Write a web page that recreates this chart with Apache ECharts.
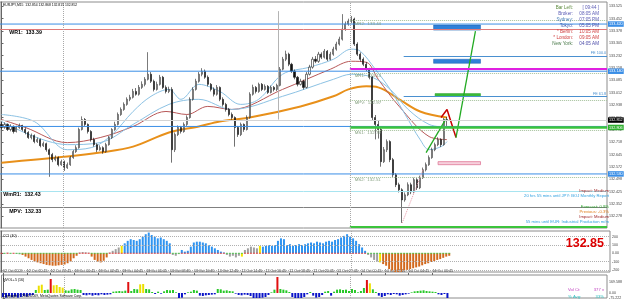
<!DOCTYPE html>
<html><head><meta charset="utf-8">
<script src="https://cdn.jsdelivr.net/npm/echarts@6/dist/echarts.min.js"></script>
<style>html,body{margin:0;padding:0;background:#fff}#c{width:625px;height:308px}</style>
</head><body><div id="c"></div>
<script>
// ---------- DATA ----------
const symbolTitle = 'EURJPY,M15';
const opens = [132.824,132.806,132.824,132.794,132.812,132.782,132.806,132.818,132.794,132.776,
132.746,132.758,132.722,132.734,132.698,132.710,132.674,132.645,132.615,132.627,
132.585,132.603,132.567,132.585,132.627,132.663,132.686,132.794,132.853,132.824,
132.782,132.734,132.704,132.674,132.686,132.663,132.704,132.746,132.794,132.824,
132.883,132.913,132.943,132.973,132.985,133.020,133.003,133.044,133.062,133.092,
133.122,133.080,133.032,133.062,133.104,133.044,133.020,133.032,132.674,132.764,
132.806,132.782,132.824,132.865,132.973,133.032,133.080,133.122,133.140,133.104,
133.062,133.032,133.003,133.044,132.973,132.943,132.913,132.883,132.865,132.806,
132.764,132.824,132.794,132.865,133.003,133.044,133.020,133.062,133.032,133.050,
133.014,133.044,133.032,133.056,133.152,133.211,133.241,133.181,133.140,133.104,
133.062,133.080,133.044,133.122,133.164,133.211,133.199,133.241,133.223,133.259,
133.211,133.241,133.271,133.301,133.330,133.390,133.420,133.438,133.450,133.301,
133.241,133.211,133.181,133.152,133.104,132.865,132.824,132.794,132.603,132.674,
132.722,132.615,132.525,132.466,132.436,132.376,132.406,132.466,132.424,132.496,
132.448,132.508,132.555,132.585,132.627,132.674,132.704,132.734,132.704,132.854];
const closes = [132.806,132.824,132.794,132.812,132.782,132.806,132.818,132.794,132.776,132.746,
132.758,132.722,132.734,132.698,132.710,132.674,132.645,132.615,132.627,132.585,
132.603,132.567,132.585,132.627,132.663,132.686,132.794,132.853,132.824,132.782,
132.734,132.704,132.674,132.686,132.663,132.704,132.746,132.794,132.824,132.883,
132.913,132.943,132.973,132.985,133.020,133.003,133.044,133.062,133.092,133.122,
133.080,133.032,133.062,133.104,133.044,133.020,133.032,132.674,132.764,132.806,
132.782,132.824,132.865,132.973,133.032,133.080,133.122,133.140,133.104,133.062,
133.032,133.003,133.044,132.973,132.943,132.913,132.883,132.865,132.806,132.764,
132.824,132.794,132.865,133.003,133.044,133.020,133.062,133.032,133.050,133.014,
133.044,133.032,133.056,133.152,133.211,133.241,133.181,133.140,133.104,133.062,
133.080,133.044,133.122,133.164,133.211,133.199,133.241,133.223,133.259,133.211,
133.241,133.271,133.301,133.330,133.390,133.420,133.438,133.450,133.301,133.241,
133.211,133.181,133.152,133.104,132.865,132.824,132.794,132.603,132.674,132.722,
132.615,132.525,132.466,132.436,132.376,132.406,132.466,132.424,132.496,132.448,
132.508,132.555,132.585,132.627,132.674,132.704,132.734,132.704,132.854,132.852];
const highs = [132.838,132.836,132.830,132.825,132.818,132.816,132.830,132.822,132.806,132.784,
132.770,132.765,132.746,132.740,132.722,132.716,132.682,132.655,132.640,132.634,
132.615,132.610,132.598,132.636,132.672,132.700,132.805,132.872,132.862,132.830,
132.790,132.745,132.712,132.700,132.694,132.715,132.756,132.802,132.840,132.895,
132.925,132.955,132.985,133.000,133.035,133.040,133.058,133.080,133.105,133.253,
133.135,133.090,133.078,133.118,133.112,133.056,133.048,133.045,132.776,132.818,
132.815,132.836,132.878,132.985,133.045,133.095,133.135,133.158,133.150,133.115,
133.070,133.044,133.058,133.050,132.985,132.952,132.922,132.895,132.872,132.815,
132.835,132.830,132.878,133.015,133.060,133.052,133.072,133.070,133.062,133.058,
133.055,133.052,133.066,133.165,133.225,133.262,133.250,133.190,133.150,133.112,
133.095,133.090,133.135,133.178,133.225,133.230,133.255,133.252,133.272,133.266,
133.255,133.285,133.315,133.345,133.479,133.435,133.452,133.468,133.458,133.312,
133.252,133.222,133.195,133.160,133.112,132.880,132.845,132.810,132.690,132.735,
132.730,132.625,132.535,132.478,132.445,132.420,132.480,132.478,132.508,132.505,
132.520,132.568,132.598,132.640,132.686,132.716,132.748,132.742,132.862,132.868];
const lows = [132.795,132.798,132.785,132.783,132.770,132.776,132.798,132.784,132.765,132.738,
132.735,132.712,132.714,132.688,132.690,132.662,132.513,132.600,132.605,132.575,
132.578,132.548,132.560,132.578,132.620,132.655,132.680,132.788,132.815,132.770,
132.722,132.692,132.660,132.668,132.650,132.656,132.698,132.738,132.786,132.818,
132.875,132.905,132.935,132.962,132.978,132.995,132.995,133.035,133.050,133.085,
133.070,133.020,133.025,133.055,133.035,133.008,133.010,132.597,132.660,132.755,
132.770,132.775,132.815,132.858,132.965,133.025,133.072,133.110,133.095,133.050,
133.020,132.990,132.995,132.962,132.930,132.900,132.872,132.852,132.692,132.750,
132.755,132.780,132.788,132.858,132.995,133.008,133.012,133.022,133.025,133.005,
133.008,133.020,133.022,133.050,133.145,133.200,133.170,133.130,133.092,133.050,
133.055,133.032,133.038,133.115,133.155,133.188,133.190,133.212,133.215,133.200,
133.205,133.232,133.262,133.292,133.322,133.380,133.410,133.425,133.290,133.230,
133.198,133.170,133.140,133.092,132.850,132.735,132.740,132.573,132.595,132.660,
132.600,132.512,132.452,132.420,132.239,132.365,132.398,132.410,132.415,132.435,
132.440,132.500,132.545,132.578,132.620,132.665,132.695,132.690,132.698,132.815];

// moving averages read at sample bars: [bar, price]
const maSlow = [[0,132.597],[22,132.633],[33,132.657],[44,132.692],[56,132.776],[66,132.812],[73,132.842],[83,132.865],[100,132.931],[111,132.991],[116,133.032],[122,133.050],[126,133.044],[133,132.973],[140,132.901],[149,132.865]];
const maMid = [[0,132.853],[8,132.806],[22,132.716],[33,132.746],[44,132.812],[55,132.901],[62,132.883],[69,132.931],[77,132.913],[94,133.032],[110,133.152],[117,133.199],[122,133.193],[126,133.092],[133,132.931],[143,132.752],[149,132.734]];
const maFastA = [[0,132.883],[11,132.841],[22,132.674],[30,132.686],[37,132.764],[44,132.901],[50,132.991],[56,133.032],[60,132.973],[66,133.062],[73,133.020],[80,132.943],[86,132.973],[94,133.122],[103,133.164],[111,133.211],[117,133.271],[120,133.259],[125,133.152],[130,133.032],[135,132.883],[140,132.734],[143,132.674],[147,132.692],[149,132.722]];
const maFastB = [[0,132.842],[22,132.704],[33,132.716],[44,132.824],[56,132.943],[66,132.973],[77,132.913],[94,132.991],[111,133.092],[117,133.122],[124,133.104],[130,133.032],[136,132.913],[143,132.824],[149,132.806]];

const cci = [5,-5,8,-6,4,-8,-12,-20,-40,-60,
-80,-100,-110,-120,-130,-140,-145,-150,-150,-145,
-140,-135,-120,-100,-60,-30,10,15,12,8,
-40,-80,-100,-110,-90,-50,10,30,50,70,
90,120,150,170,160,150,170,200,230,250,
220,200,180,190,170,150,120,-20,-30,-10,
40,20,30,80,130,140,140,130,120,100,
80,60,40,20,10,-20,-40,-30,-50,-30,
-40,40,60,80,70,60,90,80,90,100,
90,100,150,180,170,100,110,90,100,110,
100,110,120,130,120,140,130,120,140,150,
140,160,170,190,210,230,200,180,150,110,
70,30,-20,-50,-80,-100,-110,-130,-150,-190,
-215,-225,-225,-222,-210,-200,-190,-180,-170,-160,
-145,-130,-120,-105,-95,-80,-70,-55,-40,-30];
const cciColorRuns = [['g',7],['o',19],['g',4],['o',6],['g',4],['y',1],['b',16],['g',3],['b',15],['g',5],['y',1],['g',5],['y',1],['b',35],['g',4],['y',1],['o',23]];
const vol = [-60,-70,-50,-65,-55,-70,-60,-45,-55,-40,
-30,45,110,125,45,50,210,115,120,90,
80,40,35,55,60,50,45,-30,-35,-25,
-40,-30,-35,-20,-30,-25,-20,20,25,30,
25,35,165,30,60,55,130,135,60,55,
15,-15,20,-10,25,45,40,45,10,-75,
-70,-20,10,20,45,35,-40,-45,-35,-30,
-25,-20,60,55,35,40,30,25,-10,-30,
-35,-25,-30,-45,-80,-100,-90,-70,-60,-30,
10,50,240,60,50,40,15,-60,-90,-100,
-80,-60,-20,15,-40,-70,-60,-30,20,30,
-40,20,50,55,45,50,30,60,45,10,
30,75,195,145,55,15,-40,-60,-45,-20,
-30,-15,-20,-40,-30,-20,-10,10,25,30,
35,40,30,25,20,15,-20,-30,-15,-105];

const tickLabels = ['12 Oct 2009','12 Oct 20:45','12 Oct 22:45','13 Oct 00:45','13 Oct 02:45','13 Oct 04:45','13 Oct 06:45','13 Oct 08:45','13 Oct 10:45','13 Oct 12:45','13 Oct 14:45','13 Oct 16:45','13 Oct 18:45','13 Oct 20:45','13 Oct 22:45','14 Oct 00:45','14 Oct 02:45','14 Oct 04:45','14 Oct 06:45'];
const barsPerLabel = 8;
const priceTicks = [133.525,133.452,133.378,133.305,133.232,133.158,133.085,133.012,132.938,132.865,132.792,132.718,132.645,132.572,132.498,132.425,132.352,132.278];
const cciTicks = [200,100,0,-100,-200];
const volTicks = [169.588,0,-75.222];

const weeklyBlue = [133.420, 133.140, 132.812, 132.530];
const pivotNames = ['WR1','WmR1','MPV'];
const pivotValues = [133.39, 132.43, 132.33];
const dailyNames = ['MR2','MR1','MPV','MS1','MS2'];
const dailyValues = [133.44, 133.13, 132.97, 132.79, 132.51];
const daySeparators = [20.5, 116.5];
const dayStart = 116.5;
const magentaLevel = 133.152;
const greenLevels = [132.806, 132.215];
const fibNames = ['FE 100.0','FE 61.8'];
const fibValues = [133.229, 132.990];
const fibStart = 134.5;
const bidPrice = 132.852;
const spikeLine = [[92.5,133.497],[92.5,132.853]];
const zones = [[144.5,160.2,133.414,133.384],[144.5,160.2,133.211,133.187],[145,160.2,133.007,132.990],[146,160.2,132.603,132.585]];
const zigRed = [[147,132.865],[149,132.913],[152,132.746]];
const zigGreen = [[152,132.746],[158.5,133.378]];
const zigGreenLow = [[142,132.657],[148.5,132.853]];
const zigPink = [[134,132.239],[141,132.555]];

const clockLabels = ['Bar Left:','Broker:','Sydney:','Tokyo:','* Berlin:','* London:','New York:'];
const clockValues = ['[ 09:44 ]','08:05 AM','07:05 PM','05:05 PM','10:05 AM','09:05 AM','04:05 AM'];
const newsLines = ['Impact: Medium','20 hrs 55 mins until JPY: BOJ Monthly Report','Forecast: 0.9%','Previous: -0.3%','Impact: Medium','55 mins until EUR: Industrial Production m/m'];
const lastPriceBig = '132.85';
const volCount = '377 v';
const volAvg = '33%';

// ---------- STYLE / BUILD ----------
const FF = 'Liberation Sans';
const N = 203;
const XMAX = N - 0.5;
const cats = Array.from({length: N}, (_, i) => String(i));
const candleData = opens.map((o, i) => [o, closes[i], lows[i], highs[i]]);
const cciColors = [];
cciColorRuns.forEach(([c, n]) => { for (let k = 0; k < n; k++) cciColors.push(c); });
const cciPal = {b:'#3094f0', o:'#d2691e', g:'#a0a0a0', y:'#f2e400'};
const volColor = v => v < 0 ? '#0a14c8' : (v >= 160 ? '#e01010' : (v >= 80 ? '#ece000' : '#28c828'));
const BLUE = '#3a8ee6';

function tag(text, bg) {
  return {show:true, position:'end', distance:1, formatter:text, backgroundColor:bg, color:'#fff',
    fontSize:3.8, fontFamily:FF, padding:[1,1,0.5,1]};
}
const blueTags = [true, true, false, true];
// each weekly level drawn as its own 2-point line series
const blueSeries = weeklyBlue.map((p, k) => ({
  type:'line', xAxisIndex:1, yAxisIndex:0, silent:true, z:4, symbol:'none',
  data:[[-0.5, p], [XMAX, p]], lineStyle:{color:BLUE, width:1}, itemStyle:{color:BLUE},
  endLabel: blueTags[k] ? {show:true, formatter:p.toFixed(3), backgroundColor:BLUE, color:'#fff', fontSize:3.8,
    fontFamily:FF, padding:[1,1,0.5,1], distance:1} : {show:false}
}));

const mainLines = [];
const pivotColors = ['#e07878', '#a8e4f0', '#808080'];
const pivotPads = [8, 2, 8];
pivotValues.forEach((p, k) => mainLines.push({yAxis:p, lineStyle:{color:pivotColors[k], width:1, type:'solid'},
  label:{show:true, position:'insideStartBottom', distance:1.2, formatter:pivotNames[k] + ':  ' + p.toFixed(2),
    color:'#000', fontWeight:'bold', fontSize:5.3, fontFamily:FF, padding:[0,0,0,pivotPads[k]]}}));
mainLines.push({yAxis:bidPrice, lineStyle:{color:'#d4d4d4', width:1, type:'solid'}, label: tag(bidPrice.toFixed(3), '#000')});
mainLines.push([{coord:[dayStart, magentaLevel], lineStyle:{color:'#e020e0', width:2, type:'solid'}, label:{show:false}}, {coord:[XMAX, magentaLevel]}]);
greenLevels.forEach((p, k) => mainLines.push([{coord:[dayStart, p], lineStyle:{color:'#3cc43c', width:k === 0 ? 2.5 : 2, type:'solid'},
  label: k === 0 ? tag(p.toFixed(3), '#30b030') : {show:false}}, {coord:[XMAX, p]}]));
dailyValues.forEach((p, k) => mainLines.push([{coord:[dayStart, p], lineStyle:{color:'#a4c09a', width:1, type:'dotted'},
  label:{show:true, position:'insideStartBottom', distance:0.8, formatter:dailyNames[k] + ':  ' + p.toFixed(2),
    color:'#86a080', fontSize:4.4, fontFamily:FF, padding:[0,0,0,4]}}, {coord:[XMAX, p]}]));
fibValues.forEach((p, k) => mainLines.push([{coord:[fibStart, p], lineStyle:{color:'#4a90d0', width:1, type:'solid'},
  label:{show:true, position:'insideEndTop', distance:0.8, formatter:fibNames[k], color:'#4a90d0', fontSize:3.8, fontFamily:FF}}, {coord:[XMAX, p]}]));
mainLines.push([{coord:spikeLine[0], lineStyle:{color:'#b4b4b4', width:1, type:'solid'}, label:{show:false}}, {coord:spikeLine[1]}]);
const sepLines = daySeparators.map(x => ({xAxis:x, lineStyle:{color:'#a8a8a8', width:1, type:'dotted'}, label:{show:false}}));

const zoneStyles = [
  {color:'#2f80d8', borderColor:'#1a60b0', borderWidth:0.5},
  {color:'#2f80d8', borderColor:'#1a60b0', borderWidth:0.5},
  {color:'#3cbc3c', borderColor:'#2a9a2a', borderWidth:0.5},
  {color:'#f6d0dc', borderColor:'#e07898', borderWidth:0.8}
];
const zoneData = zones.map((z, k) => [{coord:[z[0], z[2]], itemStyle:zoneStyles[k]}, {coord:[z[1], z[3]]}]);

function T(x, y, text, color, size, align, bold) {
  return {type:'text', x, y, silent:true, z:100, style:{text, fill:color, fontSize:size, fontFamily:FF,
    fontWeight: bold ? 'bold' : 'normal', align: align || 'left', verticalAlign:'middle'}};
}
const clockLabelColors = ['#5c8a3c','#5a5ab4','#4a80b8','#3a5ab0','#d03c3c','#d03c3c','#4a7a4a'];
const clockValueColors = ['#5a5ab4','#5a5ab4','#5a5ab4','#4a4aa8','#d03c3c','#d03c3c','#4a4aa8'];
const newsColors = ['#a02828','#30a0e0','#30a830','#e08020','#a02828','#30a0e0'];
const newsY = [191, 196, 206.5, 211.5, 216.5, 221.5];
const graphics = [];
graphics.push(T(3, 4.6, symbolTitle + '  ' + [opens[149], highs[149], lows[149], closes[149]].map(v => v.toFixed(3)).join(' '), '#000', 3.4));
clockLabels.forEach((s, k) => {
  graphics.push(T(573, 7.3 + k * 6, s, clockLabelColors[k], 4.6, 'right'));
  graphics.push(T(599, 7.3 + k * 6, clockValues[k], clockValueColors[k], 4.6, 'right'));
});
newsLines.forEach((s, k) => graphics.push(T(609, newsY[k], s, newsColors[k], 4.2, 'right')));
graphics.push(T(604, 243.5, lastPriceBig, '#dd0000', 12.5, 'right', true));
graphics.push(T(3, 235.5, 'CCI (40)', '#000', 3.6));
graphics.push(T(3, 279.5, 'NVOL+5 (16)', '#000', 3.6));
graphics.push(T(3, 296.5, 'Copyright © 2001-2009, MetaQuotes Software Corp.', '#000', 3.4));
graphics.push(T(568, 290, 'Vol Ct:', '#c040c0', 4.2));
graphics.push(T(604, 290, volCount, '#c040c0', 4.2, 'right'));
graphics.push(T(568, 296.5, '% Avg:', '#30c0c0', 4.2));
graphics.push(T(604, 296.5, volAvg, '#30c0c0', 4.2, 'right'));

const gridBase = {left:0, right:15, show:true, borderColor:'#8c8c8c', borderWidth:1, backgroundColor:'#fff'};
const yBase = (gi, min, max, ticks, fmt) => ({
  type:'value', gridIndex:gi, position:'right', min, max, scale:false,
  axisLine:{show:true, lineStyle:{color:'#666', width:1}},
  axisTick:{show:true, length:2, lineStyle:{color:'#666'}, customValues:ticks},
  axisLabel:{show:true, fontSize:3.6, color:'#444', margin:2, fontFamily:FF, customValues:ticks, formatter:fmt},
  splitLine:{show:false}
});
const hiddenCat = gi => ({type:'category', gridIndex:gi, data:cats, boundaryGap:true, show:false});
const hiddenVal = gi => ({type:'value', gridIndex:gi, min:-0.5, max:XMAX, show:false});
const labelTicks = tickLabels.map((_, k) => k * barsPerLabel);

const option = {
  animation:false,
  backgroundColor:'#fff',
  textStyle:{fontFamily:FF},
  grid:[
    Object.assign({}, gridBase, {top:2, height:226}),
    Object.assign({}, gridBase, {top:231, height:41}),
    Object.assign({}, gridBase, {top:275, height:23})
  ],
  xAxis:[
    hiddenCat(0), hiddenVal(0), hiddenCat(1), hiddenVal(1), hiddenCat(2),
    {type:'value', gridIndex:2, min:-0.5, max:XMAX, show:true,
      axisLine:{show:false}, splitLine:{show:false},
      axisTick:{show:true, length:2, inside:false, customValues:labelTicks, lineStyle:{color:'#666'}},
      axisLabel:{show:true, customValues:labelTicks, fontSize:3.6, color:'#333', margin:2, align:'left', fontFamily:FF,
        formatter: v => tickLabels[Math.round(v / barsPerLabel)] || ''}}
  ],
  yAxis:[
    yBase(0, 132.209, 133.551, priceTicks, v => v.toFixed(3)),
    yBase(1, -225.664, 268.7, cciTicks, v => v === 0 ? '0.00' : String(v)),
    yBase(2, -75.222, 270, volTicks, v => v === 0 ? '0.00' : v.toFixed(3))
  ],
  graphic: graphics,
  series:[
    {type:'line', xAxisIndex:1, yAxisIndex:0, data:[], silent:true, z:1,
      markLine:{silent:true, symbol:['none','none'], animation:false, data: mainLines.concat(sepLines)},
      markArea:{silent:true, data: zoneData}},
    {type:'line', xAxisIndex:1, yAxisIndex:0, data:maSlow, smooth:0.35, symbol:'none', silent:true, z:2, lineStyle:{color:'#e8901a', width:2}},
    {type:'line', xAxisIndex:1, yAxisIndex:0, data:maMid, smooth:0.35, symbol:'none', silent:true, z:2, lineStyle:{color:'#b85858', width:1}},
    {type:'line', xAxisIndex:1, yAxisIndex:0, data:maFastA, smooth:0.35, symbol:'none', silent:true, z:2, lineStyle:{color:'#8cc2e4', width:1}},
    {type:'line', xAxisIndex:1, yAxisIndex:0, data:maFastB, smooth:0.35, symbol:'none', silent:true, z:2, lineStyle:{color:'#8cc2e4', width:1}},
    {type:'candlestick', xAxisIndex:0, yAxisIndex:0, data:candleData, barWidth:1.6, silent:true, z:3,
      itemStyle:{color:'#fff', color0:'#111', borderColor:'#222', borderColor0:'#111', borderWidth:0.6}},
  ].concat(blueSeries).concat([
    {type:'line', xAxisIndex:1, yAxisIndex:0, data:zigPink, symbol:'none', silent:true, z:4, lineStyle:{color:'#e898a8', width:1, type:'dotted'}},
    {type:'line', xAxisIndex:1, yAxisIndex:0, data:zigGreenLow, symbol:'none', silent:true, z:4, lineStyle:{color:'#22aa22', width:1.3}},
    {type:'line', xAxisIndex:1, yAxisIndex:0, data:zigRed, symbol:'none', silent:true, z:4, lineStyle:{color:'#c80000', width:1.5}},
    {type:'line', xAxisIndex:1, yAxisIndex:0, data:zigGreen, symbol:'none', silent:true, z:4, lineStyle:{color:'#22aa22', width:1.3}},
    // CCI
    {type:'bar', xAxisIndex:2, yAxisIndex:1, barWidth:2, silent:true,
      data: cci.map((v, i) => ({value:v, itemStyle:{color:cciPal[cciColors[i]]}}))},
    {type:'scatter', xAxisIndex:3, yAxisIndex:1, symbol:'rect', symbolSize:[2,1], silent:true, z:5,
      data: cci.map((v, i) => ({value:[i, 0], itemStyle:{color: v >= 0 ? '#e02020' : '#30c030'}}))},
    {type:'line', xAxisIndex:3, yAxisIndex:1, data:[], silent:true,
      markLine:{silent:true, symbol:['none','none'], animation:false,
        data: [200, 100, -100, -200].map(v => ({yAxis:v, lineStyle:{color:'#b0b0b0', width:1, type:'dotted'}, label:{show:false}})).concat(sepLines)}},
    // Volume
    {type:'bar', xAxisIndex:4, yAxisIndex:2, barWidth:2, silent:true,
      data: vol.map(v => ({value:v, itemStyle:{color:volColor(v)}}))},
    {type:'line', xAxisIndex:5, yAxisIndex:2, data:[], silent:true,
      markLine:{silent:true, symbol:['none','none'], animation:false, data: sepLines}}
  ])
};
const chart = echarts.init(document.getElementById('c'), null, {renderer:'canvas'});
chart.setOption(option);
</script>
</body></html>
